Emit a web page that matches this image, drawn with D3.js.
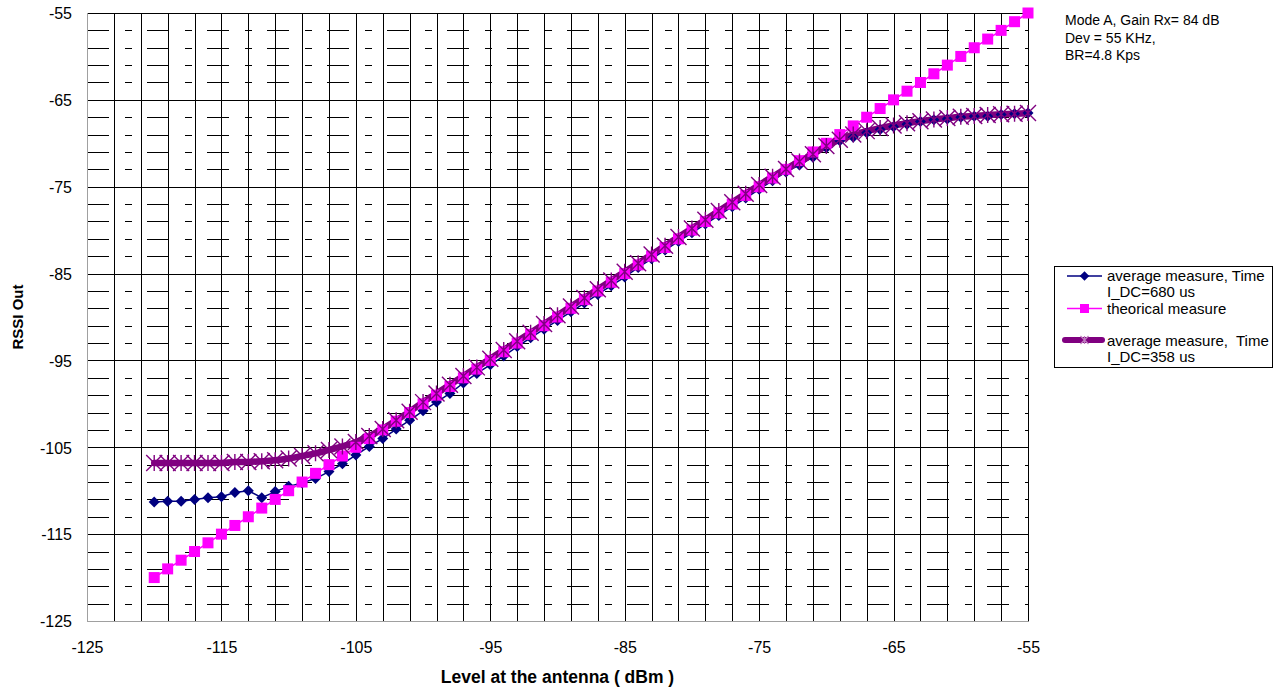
<!DOCTYPE html>
<html>
<head>
<meta charset="utf-8">
<script src="https://cdn.jsdelivr.net/npm/d3@7"></script>
<style>
  html, body { margin: 0; padding: 0; background: #fff; }
  svg { display: block; }
  text { font-family: Arial, "Liberation Sans", sans-serif; fill: #000; }
</style>
</head>
<body>
<div id="chart"></div>
<script>
// ---------------- DATA ----------------
const levelAtAntenna = [-120,-119,-118,-117,-116,-115,-114,-113,-112,-111,-110,-109,-108,-107,-106,-105,-104,-103,-102,-101,-100,-99,-98,-97,-96,-95,-94,-93,-92,-91,-90,-89,-88,-87,-86,-85,-84,-83,-82,-81,-80,-79,-78,-77,-76,-75,-74,-73,-72,-71,-70,-69,-68,-67,-66,-65,-64,-63,-62,-61,-60,-59,-58,-57,-56,-55];

const avgMeasure680 = [-111.3,-111.2,-111.2,-111.0,-110.8,-110.7,-110.2,-110.0,-110.8,-110.1,-109.5,-109.1,-108.6,-107.8,-106.9,-105.9,-104.9,-104.0,-102.9,-101.9,-100.8,-99.8,-98.8,-97.6,-96.5,-95.5,-94.5,-93.4,-92.4,-91.4,-90.4,-89.4,-88.4,-87.4,-86.4,-85.4,-84.3,-83.3,-82.3,-81.3,-80.3,-79.3,-78.3,-77.3,-76.3,-75.3,-74.3,-73.3,-72.5,-71.6,-70.5,-69.7,-69.3,-68.8,-68.4,-68.1,-67.8,-67.5,-67.3,-67.2,-67.0,-66.9,-66.9,-66.7,-66.6,-66.5];

const theoricalMeasure = [-120,-119,-118,-117,-116,-115,-114,-113,-112,-111,-110,-109,-108,-107,-106,-105,-104,-103,-102,-101,-100,-99,-98,-97,-96,-95,-94,-93,-92,-91,-90,-89,-88,-87,-86,-85,-84,-83,-82,-81,-80,-79,-78,-77,-76,-75,-74,-73,-72,-71,-70,-69,-68,-67,-66,-65,-64,-63,-62,-61,-60,-59,-58,-57,-56,-55];

const avgMeasure358 = [-106.8,-106.8,-106.8,-106.8,-106.8,-106.8,-106.7,-106.7,-106.6,-106.5,-106.3,-106.0,-105.7,-105.3,-104.9,-104.4,-103.7,-102.9,-101.9,-100.9,-99.8,-98.8,-97.8,-96.8,-95.8,-94.8,-93.8,-92.8,-91.8,-90.8,-89.8,-88.8,-87.8,-86.8,-85.8,-84.8,-83.8,-82.8,-81.8,-80.8,-79.8,-78.8,-77.8,-76.8,-75.8,-74.8,-73.85,-72.95,-72.1,-71.25,-70.3,-69.6,-69.0,-68.6,-68.25,-67.95,-67.7,-67.45,-67.25,-67.1,-66.95,-66.85,-66.75,-66.65,-66.6,-66.5];

const xTickLabels = [-125,-115,-105,-95,-85,-75,-65,-55];
const yTickLabels = [-55,-65,-75,-85,-95,-105,-115,-125];

const seriesNames = [
  ["average measure, Time", "I_DC=680 us"],
  ["theorical measure"],
  ["average measure,  Time", "I_DC=358 us"]
];
const annotationLines = ["Mode A, Gain Rx= 84 dB", "Dev = 55 KHz,", "BR=4.8 Kps"];
const xTitle = "Level at the antenna ( dBm )";
const yTitle = "RSSI Out";

// ---------------- LAYOUT ----------------
const W = 1274, H = 689;
const plot = { left: 87, right: 1028, top: 13, bottom: 621 };

const svg = d3.select("#chart").append("svg")
  .attr("width", W).attr("height", H);
svg.append("rect").attr("width", W).attr("height", H).attr("fill", "#fff");

const x = d3.scaleLinear().domain([-125, -55]).range([plot.left, plot.right]);
const y = d3.scaleLinear().domain([-125, -55]).range([plot.bottom, plot.top]);

const crisp = v => Math.round(v) + 0.5;
const fmt = d => String(d);

// ---------------- GRID ----------------
const grid = svg.append("g");
const xGridVals = d3.range(-125, -54.99, 2);
const yMinorVals = d3.range(-125, -54.99, 2).filter(v => (v + 125) % 10 !== 0);
const yMajorVals = yTickLabels;

grid.selectAll("line.hminor").data(yMinorVals).join("line")
  .attr("x1", plot.left).attr("x2", plot.right)
  .attr("y1", d => crisp(y(d))).attr("y2", d => crisp(y(d)))
  .attr("stroke", "#000").attr("stroke-width", 1)
  .attr("stroke-dasharray", "22,16,7,15");

grid.selectAll("line.v").data(xGridVals).join("line")
  .attr("x1", d => crisp(x(d))).attr("x2", d => crisp(x(d)))
  .attr("y1", plot.top).attr("y2", plot.bottom)
  .attr("stroke", "#000").attr("stroke-width", 1);

grid.selectAll("line.hmajor").data(yMajorVals).join("line")
  .attr("x1", plot.left).attr("x2", plot.right + 0.5)
  .attr("y1", d => crisp(y(d))).attr("y2", d => crisp(y(d)))
  .attr("stroke", "#000").attr("stroke-width", 1);

svg.append("line")
  .attr("x1", crisp(plot.left)).attr("x2", crisp(plot.left))
  .attr("y1", plot.top).attr("y2", crisp(plot.bottom))
  .attr("stroke", "#a0a0a0").attr("stroke-width", 1);
svg.append("line")
  .attr("x1", plot.left).attr("x2", crisp(plot.right))
  .attr("y1", crisp(plot.bottom)).attr("y2", crisp(plot.bottom))
  .attr("stroke", "#a0a0a0").attr("stroke-width", 1);

// ---------------- AXES ----------------
const xAxis = d3.axisBottom(x).tickValues(xTickLabels).tickSize(0).tickPadding(0).tickFormat(fmt);
const gx = svg.append("g").attr("transform", `translate(0,${plot.bottom})`).call(xAxis);
gx.select(".domain").remove();
gx.selectAll("text").attr("dy", null).attr("y", 32)
  .style("font-size", "16px").style("font-family", "Arial, 'Liberation Sans', sans-serif");

const yAxis = d3.axisLeft(y).tickValues(yTickLabels).tickSize(0).tickPadding(0).tickFormat(fmt);
const gy = svg.append("g").attr("transform", `translate(${plot.left - 15},0)`).call(yAxis);
gy.select(".domain").remove();
gy.selectAll("text").attr("dy", "0.36em")
  .style("font-size", "16px").style("font-family", "Arial, 'Liberation Sans', sans-serif");

svg.append("text").attr("x", (plot.left + plot.right) / 2).attr("y", 683)
  .attr("text-anchor", "middle").attr("font-size", 17.5).attr("font-weight", "bold")
  .text(xTitle);
svg.append("text").attr("transform", `translate(23,${(plot.top + plot.bottom) / 2}) rotate(-90)`)
  .attr("text-anchor", "middle").attr("font-size", 15).attr("font-weight", "bold")
  .text(yTitle);

// ---------------- SERIES ----------------
const colors = ["#000080", "#ff00ff", "#800080"];
const seriesData = [avgMeasure680, theoricalMeasure, avgMeasure358].map(arr =>
  arr.map((v, i) => ({ x: levelAtAntenna[i], y: v })));

const lineStraight = d3.line().x(d => x(d.x)).y(d => y(d.y));
const lineSmooth = d3.line().x(d => x(d.x)).y(d => y(d.y)).curve(d3.curveCatmullRom.alpha(0.5));

const linesG = svg.append("g");
linesG.append("path").datum(seriesData[0]).attr("d", lineStraight)
  .attr("fill", "none").attr("stroke", colors[0]).attr("stroke-width", 1.5);
linesG.append("path").datum(seriesData[1]).attr("d", lineStraight)
  .attr("fill", "none").attr("stroke", colors[1]).attr("stroke-width", 1.5);
linesG.append("path").datum(seriesData[2]).attr("d", lineSmooth)
  .attr("fill", "none").attr("stroke", colors[2]).attr("stroke-width", 6.5)
  .attr("stroke-linejoin", "round").attr("stroke-linecap", "round");

const diamond = s => `M0,${-s}L${s},0L0,${s}L${-s},0Z`;
const star = s => `M${-s},${-s}L${s},${s}M${-s},${s}L${s},${-s}M0,${-s}L0,${s}`;

const markersG = svg.append("g");
markersG.selectAll("path.m0").data(seriesData[0]).join("path")
  .attr("transform", d => `translate(${x(d.x)},${y(d.y)})`)
  .attr("d", diamond(5.5)).attr("fill", colors[0]);
markersG.selectAll("rect.m1").data(seriesData[1]).join("rect")
  .attr("x", d => x(d.x) - 5.5).attr("y", d => y(d.y) - 5.5)
  .attr("width", 11).attr("height", 11).attr("fill", colors[1]);
markersG.selectAll("path.m2").data(seriesData[2]).join("path")
  .attr("transform", d => `translate(${x(d.x)},${y(d.y)})`)
  .attr("d", star(8)).attr("fill", "none").attr("stroke", colors[2]).attr("stroke-width", 1.4);

// ---------------- LEGEND ----------------
const lg = svg.append("g");
lg.append("rect").attr("x", 1054.5).attr("y", 266.5).attr("width", 218).attr("height", 101)
  .attr("fill", "#fff").attr("stroke", "#000").attr("stroke-width", 1);

const legendRows = [
  { lineY: 276, textY: [281, 297] },
  { lineY: 308.5, textY: [313.5] },
  { lineY: 340, textY: [345.5, 362] }
];
const lx1 = 1067, lx2 = 1102, lmid = 1084.5, ltext = 1107;

lg.append("line").attr("x1", lx1).attr("x2", lx2).attr("y1", legendRows[0].lineY).attr("y2", legendRows[0].lineY)
  .attr("stroke", colors[0]).attr("stroke-width", 1.5);
lg.append("path").attr("transform", `translate(${lmid},${legendRows[0].lineY})`).attr("d", diamond(4.8)).attr("fill", colors[0]);
lg.append("line").attr("x1", lx1).attr("x2", lx2).attr("y1", legendRows[1].lineY).attr("y2", legendRows[1].lineY)
  .attr("stroke", colors[1]).attr("stroke-width", 1.5);
lg.append("rect").attr("x", lmid - 4.5).attr("y", legendRows[1].lineY - 4.5).attr("width", 9).attr("height", 9).attr("fill", colors[1]);
lg.append("line").attr("x1", lx1 - 2).attr("x2", lx2).attr("y1", legendRows[2].lineY).attr("y2", legendRows[2].lineY)
  .attr("stroke", colors[2]).attr("stroke-width", 6).attr("stroke-linecap", "round");
lg.append("path").attr("transform", `translate(${lmid},${legendRows[2].lineY})`).attr("d", star(4))
  .attr("fill", "none").attr("stroke", "#c080c0").attr("stroke-width", 1.2);

seriesNames.forEach((lines, i) => {
  lines.forEach((t, j) => {
    lg.append("text").attr("x", ltext).attr("y", legendRows[i].textY[j])
      .attr("font-size", 15).style("white-space", "pre").text(t);
  });
});

// ---------------- ANNOTATION ----------------
annotationLines.forEach((t, i) => {
  svg.append("text").attr("x", 1065).attr("y", 25 + i * 17.5).attr("font-size", 14).text(t);
});
</script>
</body>
</html>
